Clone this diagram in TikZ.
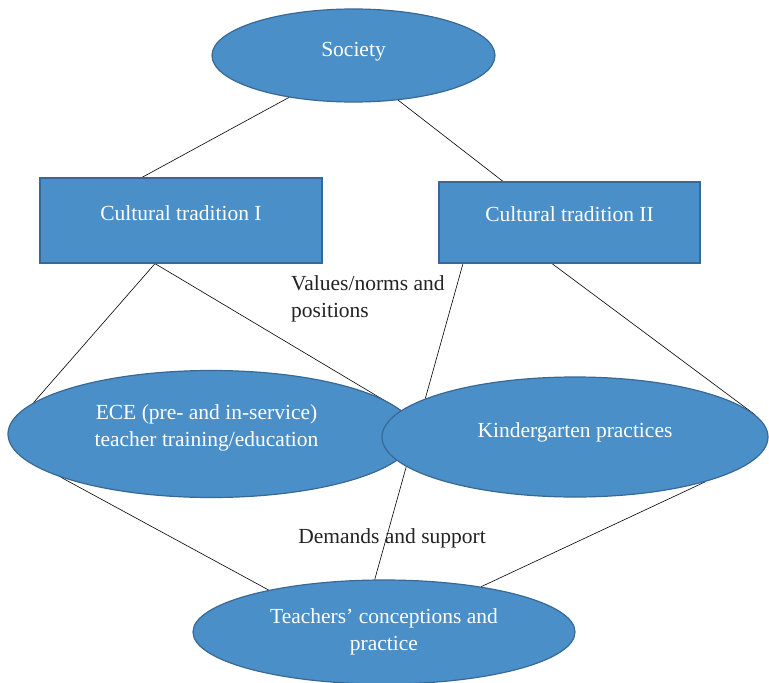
\documentclass[tikz,border=0pt]{standalone}
\usepackage{fontspec}
\setmainfont{Liberation Serif}
\usetikzlibrary{shapes.geometric, backgrounds}
\definecolor{boxblue}{RGB}{74,143,200}
\definecolor{edgeblue}{RGB}{56,105,150}
\definecolor{inkgray}{RGB}{35,35,35}

\begin{document}
\begin{tikzpicture}[x=1pt, y=-1pt,
    bubble/.style={ellipse, draw=edgeblue, line width=1.2pt, fill=boxblue, inner sep=0pt},
    block/.style={rectangle, draw=edgeblue, line width=1.2pt, fill=boxblue, inner sep=0pt},
    intext/.style={text=white, align=center, font=\fontsize{21.5}{27}\selectfont},
    note/.style={text=inkgray, inner sep=0pt, font=\fontsize{21.5}{27}\selectfont},
    link/.style={draw=black, line width=0.6pt}]
    \useasboundingbox (0,0) rectangle (769,683);

    % Society on top
    \node[bubble, minimum width=283pt, minimum height=93pt,
      label={[intext, yshift=4pt]center:Society}] (soc) at (353.5,55.5) {};

    % the two cultural traditions
    \node[block, minimum width=282pt, minimum height=85pt,
      label={[intext, yshift=7.5pt]center:Cultural tradition I}] (ct1) at (181,220.5) {};
    \node[block, minimum width=261pt, minimum height=81pt,
      label={[intext, yshift=8pt]center:Cultural tradition II}] (ct2) at (569.5,222.5) {};

    % training and practice
    \node[bubble, minimum width=407pt, minimum height=127pt,
      label={[intext, yshift=6.5pt, xshift=-5pt]center:{ECE (pre- and in-service)\\teacher training/education}}] (ece) at (211.5,434) {};
    \node[bubble, minimum width=386pt, minimum height=120pt,
      label={[intext, yshift=5pt]center:Kindergarten practices}] (kg) at (575,437) {};

    % teachers at the bottom
    \node[bubble, minimum width=382pt, minimum height=104pt,
      label={[intext]center:{Teachers’ conceptions and\\practice}}] (tc) at (384,632) {};

    % free labels
    \node[note, align=left, anchor=north west] (vals) at (291,275) {Values/norms and\\positions};
    \node[note, anchor=base] (dem) at (392,543) {Demands and support};

    % connectors behind the shapes
    \begin{scope}[on background layer]
        \draw[link] (soc.213) -- ([xshift=-39pt]ct1.north);
        \draw[link] (soc.315.6) -- ([xshift=-66.5pt]ct2.north);
        \draw[link] ([xshift=-26pt]ct1.south) -- (ece.170.4);
        \draw[link] ([xshift=-26pt]ct1.south) -- (ece.7.3);
        \draw[link] ([xshift=-106.5pt]ct2.south) -- (tc.100);
        \draw[link] ([xshift=-17.5pt]ct2.south) -- (kg.7);
        \draw[link] (ece.196) -- (tc.160.7);
        \draw[link] (kg.341) -- (tc.25.8);
    \end{scope}
\end{tikzpicture}
\end{document}
